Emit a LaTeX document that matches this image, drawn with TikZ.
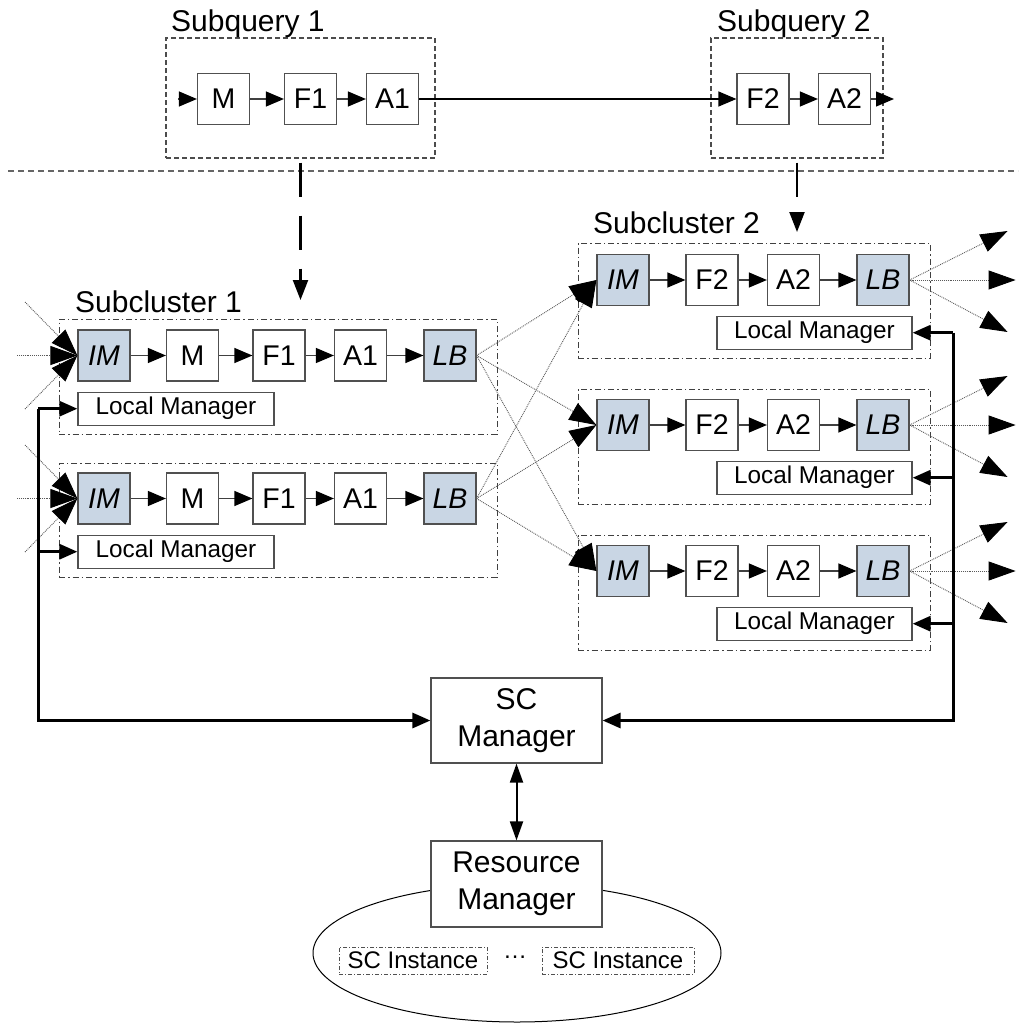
\documentclass[tikz,border=0pt]{standalone}
\usepackage{fontspec}
\setmainfont{Liberation Sans}
\usetikzlibrary{arrows.meta,calc,shapes.geometric}
\definecolor{imfill}{HTML}{C9D6E4}
\definecolor{boxc}{HTML}{505050}
\begin{document}
\begin{tikzpicture}[x=1pt,y=-1pt,
  box/.style={draw=boxc, line width=1.2pt, fill=white, inner sep=0pt, minimum width=52pt, minimum height=51pt, font=\fontsize{28.5}{30}\selectfont},
  hbox/.style={box, fill=imfill, font=\fontsize{28.5}{30}\selectfont\itshape},
  lm/.style={draw=boxc, line width=1.2pt, fill=white, inner sep=0pt, minimum width=196pt, minimum height=33pt, font=\fontsize{24.3}{26}\selectfont},
  mgr/.style={draw=boxc, line width=1.2pt, fill=white, inner sep=0pt, minimum width=171pt, align=center, font=\fontsize{30}{36.5}\selectfont},
  inst/.style={draw=boxc, line width=0.9pt, dash pattern=on 4pt off 2pt on 1pt off 2pt, inner sep=0pt, minimum height=27pt, font=\fontsize{24}{25}\selectfont},
  clframe/.style={draw=black!75, line width=1pt, dash pattern=on 6pt off 3pt on 1.5pt off 3pt, inner sep=0pt},
  sqframe/.style={draw=black!70, line width=1.1pt, dash pattern=on 5pt off 3pt, inner sep=0pt},
  lbl/.style={inner sep=0pt, font=\fontsize{30}{31}\selectfont},
  flow/.style={draw=black!75, line width=1.2pt, -{Triangle[length=18pt,width=15pt,color=black]}},
  dotarr/.style={draw=black!65, line width=0.9pt, densely dotted, -{Triangle[length=27pt,width=19pt,color=black]}},
  fb/.style={draw=black, line width=3pt, -{Triangle[length=18pt,width=15pt]}},
  ldash/.style={draw=black, line width=2.2pt, dash pattern=on 34pt off 19pt, -{Triangle[length=20pt,width=15pt]}},
  dbl/.style={draw=black, line width=2pt, {Triangle[length=19pt,width=13pt]}-{Triangle[length=19pt,width=13pt]}},
  sepline/.style={draw=black!60, line width=1.2pt, dash pattern=on 6pt off 4pt}
]
\fill[white] (0,0) rectangle (1018,1023);
\useasboundingbox (0,0) rectangle (1018,1023);

% ---------- Subqueries ----------
\node[sqframe, minimum width=269pt, minimum height=120pt] (sq1) at (300.5,98) {};
\node[sqframe, minimum width=172pt, minimum height=120pt] (sq2) at (797,98) {};
\node[lbl, anchor=base west] (sq1l) at (171,31) {Subquery 1};
\node[lbl, anchor=base west] (sq2l) at (717,31) {Subquery 2};
\node[box] (qM)  at (223.5,99) {M};
\node[box] (qF1) at (310.5,99) {F1};
\node[box] (qA1) at (392.5,99) {A1};
\node[box] (qF2) at (763,99) {F2};
\node[box] (qA2) at (844.5,99) {A2};
\coordinate (qin) at (178,99);
\coordinate (qout) at (894,99);
\draw[flow] (qin) -- (qM);
\draw[flow] (qM) -- (qF1);
\draw[flow] (qF1) -- (qA1);
\draw[flow, draw=black] (qA1) -- (qF2);
\draw[flow] (qF2) -- (qA2);
\draw[flow] (qA2) -- (qout);

% separator
\coordinate (sepL) at (8,171);
\coordinate (sepR) at (1018,171);
\draw[sepline] (sepL) -- (sepR);

% long dashed arrows
\coordinate (c1top) at (300.5,300);
\coordinate (c2top) at (797,232);
\draw[ldash] ($(sq1.south)+(0,4)$) -- (c1top);
\draw[ldash] ($(sq2.south)+(0,4)$) -- (c2top);

% ---------- Subcluster 1 ----------
\node[lbl, anchor=base west] (sc1l) at (75,312) {Subcluster 1};
\node[clframe, minimum width=438pt, minimum height=115pt] (c1a) at (278,376.5) {};
\node[clframe, minimum width=438pt, minimum height=114pt] (c1b) at (278,520) {};
\foreach \r/\y in {a/355.5,b/498.5}{
  \node[hbox] (p\r-IM) at (104,\y) {IM};
  \node[box]  (p\r-M)  at (192.5,\y) {M};
  \node[box]  (p\r-F)  at (279,\y) {F1};
  \node[box]  (p\r-A)  at (360.5,\y) {A1};
  \node[hbox] (p\r-LB) at (450,\y) {LB};
  \node[lm]   (p\r-LM) at (176,\y+53.2) {Local Manager};
  \draw[flow] (p\r-IM) -- (p\r-M);
  \draw[flow] (p\r-M) -- (p\r-F);
  \draw[flow] (p\r-F) -- (p\r-A);
  \draw[flow] (p\r-A) -- (p\r-LB);
  \coordinate (in\r1) at (25,\y-53.5);
  \coordinate (in\r2) at (17,\y);
  \coordinate (in\r3) at (25,\y+53.5);
  \draw[dotarr] (in\r1) -- (p\r-IM.west);
  \draw[dotarr] (in\r2) -- (p\r-IM.west);
  \draw[dotarr] (in\r3) -- (p\r-IM.west);
}

% ---------- Subcluster 2 ----------
\node[lbl, anchor=base west] (sc2l) at (593,233) {Subcluster 2};
\node[clframe, minimum width=352pt, minimum height=115pt] (c2a) at (754,300.5) {};
\node[clframe, minimum width=352pt, minimum height=115pt] (c2b) at (754,446.5) {};
\node[clframe, minimum width=352pt, minimum height=115pt] (c2c) at (754,592.5) {};
\foreach \r/\y in {a/280,b/425,c/571}{
  \node[hbox] (q\r-IM) at (623,\y) {IM};
  \node[box]  (q\r-F)  at (712,\y) {F2};
  \node[box]  (q\r-A)  at (793.5,\y) {A2};
  \node[hbox] (q\r-LB) at (883,\y) {LB};
  \node[lm, minimum width=195pt] (q\r-LM) at (814.5,\y+52.7) {Local Manager};
  \draw[flow] (q\r-IM) -- (q\r-F);
  \draw[flow] (q\r-F) -- (q\r-A);
  \draw[flow] (q\r-A) -- (q\r-LB);
  \coordinate (o\r1) at ($(q\r-LB.east)+(98,-49)$);
  \coordinate (o\r2) at ($(q\r-LB.east)+(106,0)$);
  \coordinate (o\r3) at ($(q\r-LB.east)+(98,52)$);
  \draw[dotarr] (q\r-LB.east) -- (o\r1);
  \draw[dotarr] (q\r-LB.east) -- (o\r2);
  \draw[dotarr] (q\r-LB.east) -- (o\r3);
}

% crossing connections
\foreach \s in {a,b}{
  \foreach \t in {a,b,c}{
    \draw[dotarr] (p\s-LB.east) -- (q\t-IM.west);
  }
}

% ---------- Managers ----------
\node[ellipse, draw=black, line width=1pt, inner sep=0pt, minimum width=408pt, minimum height=138pt] (pool) at (517,953) {};
\node[mgr, minimum height=85pt] (SCM) at (516.5,720.5) {SC\\Manager};
\node[mgr, minimum height=86pt] (RM) at (516.5,884) {Resource\\Manager};
\node[inst, minimum width=148pt] (si1) at (413,960.5) {SC Instance};
\node[inst, minimum width=152pt] (si2) at (618,960.5) {SC Instance};
\node[inner sep=0pt, font=\fontsize{24}{25}\selectfont] (dots) at (515,957) {…};
\draw[dbl] (SCM.south) -- (RM.north);

% feedback lines
\coordinate (bl1) at (38,408.7);
\coordinate (bl2) at (38,551.7);
\draw[fb] (bl1) |- (SCM.west);
\draw[fb] (bl1) -- (pa-LM.west);
\draw[fb] (bl2) -- (pb-LM.west);
\coordinate (br1) at (953,332.7);
\coordinate (br2) at (953,477.7);
\coordinate (br3) at (953,623.7);
\draw[fb] (br1) |- (SCM.east);
\draw[fb] (br1) -- (qa-LM.east);
\draw[fb] (br2) -- (qb-LM.east);
\draw[fb] (br3) -- (qc-LM.east);
\end{tikzpicture}
\end{document}
